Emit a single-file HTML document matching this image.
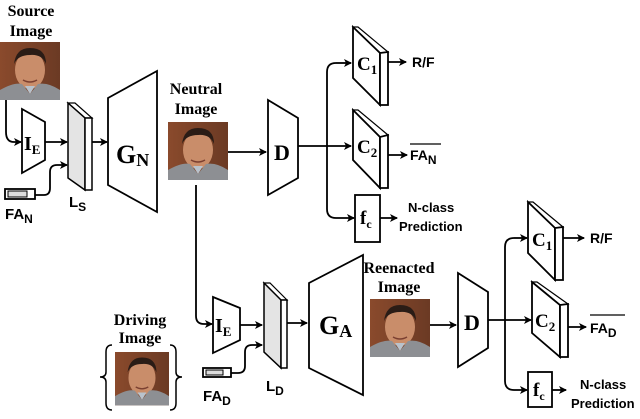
<!DOCTYPE html>
<html><head><meta charset="utf-8"><style>
html,body{margin:0;padding:0;background:#fff;}
svg{display:block;}
.s{font-family:"Liberation Serif",serif;font-weight:bold;}
.a{font-family:"Liberation Sans",sans-serif;font-weight:bold;}
</style></head><body>
<svg width="640" height="419" viewBox="0 0 640 419" xmlns="http://www.w3.org/2000/svg">
<defs>
<marker id="ar" markerWidth="8" markerHeight="8" refX="7" refY="4" orient="auto" markerUnits="userSpaceOnUse">
<path d="M0,0 L8,4 L0,8 L2,4 z" fill="#000"/></marker>
<linearGradient id="bg" x1="0" y1="0" x2="1" y2="0"><stop offset="0" stop-color="#8a4a2c"/><stop offset="1" stop-color="#6b3a24"/></linearGradient>
<g id="face">
<rect x="0" y="0" width="60" height="58" fill="url(#bg)"/>
<ellipse cx="30" cy="28" rx="15" ry="19" fill="#c98d6a"/>
<path d="M14,22 Q16,6 30,6 Q46,6 46,22 Q42,12 30,13 Q18,13 14,22z" fill="#2a1c16"/>
<path d="M0,58 L0,48 Q14,40 22,42 L30,52 L38,42 Q48,40 60,48 L60,58z" fill="#8d8f93"/>
<path d="M25,44 L30,52 L35,44z" fill="#b8c2cc"/>
<path d="M23,38 Q30,42 37,38" stroke="#7a3f30" stroke-width="1.5" fill="none"/>
</g>
</defs>
<g fill="none" stroke="#000" stroke-width="1.8">
<path d="M6,100 L6,132 Q6,142 14,142 L21,142" marker-end="url(#ar)"/>
<polygon points="22,109 45,122 45,160 22,173" fill="#fff"/>
<line x1="45" y1="142" x2="67" y2="142" marker-end="url(#ar)"/>
<rect x="5" y="189" width="30" height="10" fill="#fff"/>
<rect x="8" y="191" width="19" height="6" fill="#ddd" stroke-width="1"/>
<path d="M35,195 L44,195 Q50,195 50,188 L50,172 Q50,165 57,165 L67,165" marker-end="url(#ar)"/>
<polygon points="68,103 75,103 92,118 85,118" fill="#fff" stroke-width="1.2"/>
<polygon points="68,103 85,118 85,190 68,178" fill="#e4e4e4" stroke-width="1.5"/>
<polygon points="85,118 92,118 92,190 85,190" fill="#fff" stroke-width="1.5"/>
<line x1="92" y1="142" x2="107" y2="142" marker-end="url(#ar)"/>
<polygon points="108,98 157,71 157,212 108,185" fill="#fff"/>
<line x1="226" y1="152" x2="266" y2="152" marker-end="url(#ar)"/>
<polygon points="268,100 298,118 298,178 268,195" fill="#fff"/>
<line x1="298" y1="146" x2="351" y2="146" marker-end="url(#ar)"/>
<path d="M336,63 Q327,63 327,72 L327,209 Q327,218 336,218 L354,218" marker-end="url(#ar)"/>
<path d="M336,63 L351,63" marker-end="url(#ar)"/>
<polygon points="353,27 358,27 388,52 380,53" fill="#fff" stroke-width="1.2"/>
<polygon points="353,27 380,53 380,105 353,78" fill="#fff"/>
<polygon points="380,53 388,52 388,105 380,105" fill="#fff"/>
<line x1="388" y1="62" x2="406" y2="62" marker-end="url(#ar)"/>
<polygon points="353,110 358,110 388,135 380,137" fill="#fff" stroke-width="1.2"/>
<polygon points="353,110 380,137 380,188 353,160" fill="#fff"/>
<polygon points="380,137 388,135 388,188 380,188" fill="#fff"/>
<line x1="388" y1="155" x2="407" y2="155" marker-end="url(#ar)"/>
<rect x="355" y="195" width="25" height="47" fill="#fff"/>
<line x1="380" y1="218" x2="397" y2="218" marker-end="url(#ar)"/>
<path d="M196,185 L196,316 Q196,324 204,324 L212,324" marker-end="url(#ar)"/>
<polygon points="213,297 240,308 240,340 213,353" fill="#fff"/>
<line x1="240" y1="325" x2="262" y2="325" marker-end="url(#ar)"/>
<rect x="203" y="368" width="28" height="9" fill="#fff"/>
<rect x="206" y="370" width="17" height="5" fill="#ddd" stroke-width="1"/>
<path d="M231,373 L238,373 Q245,373 245,366 L245,352 Q245,345 252,345 L262,345" marker-end="url(#ar)"/>
<polygon points="264,283 270,283 287,300 281,300" fill="#fff" stroke-width="1.2"/>
<polygon points="264,283 281,300 281,368 264,352" fill="#e4e4e4" stroke-width="1.5"/>
<polygon points="281,300 287,300 287,368 281,368" fill="#fff" stroke-width="1.5"/>
<line x1="287" y1="323" x2="307" y2="323" marker-end="url(#ar)"/>
<polygon points="309,283 363,255 363,395 309,368" fill="#fff"/>
<path d="M112,345 Q106,345 106,352 L106,372 Q106,377 100,377 Q106,377 106,382 L106,403 Q106,410 112,410" stroke-width="1.5"/>
<path d="M170,345 Q176,345 176,352 L176,372 Q176,377 182,377 Q176,377 176,382 L176,403 Q176,410 170,410" stroke-width="1.5"/>
<line x1="430" y1="325" x2="456" y2="325" marker-end="url(#ar)"/>
<polygon points="458,273 488,292 488,348 458,367" fill="#fff"/>
<line x1="488" y1="320" x2="531" y2="320" marker-end="url(#ar)"/>
<path d="M514,238 Q505,238 505,247 L505,381 Q505,390 514,390 L527,390" marker-end="url(#ar)"/>
<path d="M514,238 L527,238" marker-end="url(#ar)"/>
<polygon points="528,202 533,202 563,227 555,228" fill="#fff" stroke-width="1.2"/>
<polygon points="528,202 555,228 555,280 528,253" fill="#fff"/>
<polygon points="555,228 563,227 563,280 555,280" fill="#fff"/>
<line x1="563" y1="238" x2="584" y2="238" marker-end="url(#ar)"/>
<polygon points="532,282 537,282 568,304 560,305" fill="#fff" stroke-width="1.2"/>
<polygon points="532,282 560,305 560,357 532,333" fill="#fff"/>
<polygon points="560,305 568,304 568,357 560,357" fill="#fff"/>
<line x1="568" y1="327" x2="586" y2="327" marker-end="url(#ar)"/>
<rect x="528" y="372" width="24" height="35" fill="#fff"/>
<line x1="552" y1="390" x2="566" y2="390" marker-end="url(#ar)"/>
<line x1="410" y1="144" x2="441" y2="144" stroke-width="1.3"/>
<line x1="590" y1="315" x2="625" y2="315" stroke-width="1.3"/>
</g>
<use href="#face" x="0" y="42"/>
<use href="#face" x="168" y="122"/>
<g transform="translate(115,352) scale(0.9,0.92)"><use href="#face"/></g>
<use href="#face" x="370" y="299"/>
<g class="s" font-size="16" text-anchor="middle">
<text x="31" y="16">Source</text><text x="31" y="36">Image</text>
<text x="196" y="94">Neutral</text><text x="196" y="114">Image</text>
<text x="140" y="325">Driving</text><text x="140" y="343">Image</text>
<text x="399" y="273">Reenacted</text><text x="399" y="292">Image</text>
</g>
<g class="s">
<text x="24" y="150" font-size="20">I<tspan font-size="13" dy="4">E</tspan></text>
<text x="116" y="163" font-size="26">G<tspan font-size="18" dy="3">N</tspan></text>
<text x="274" y="160" font-size="22">D</text>
<text x="357" y="70" font-size="19">C<tspan font-size="13" dy="4">1</tspan></text>
<text x="357" y="153" font-size="19">C<tspan font-size="13" dy="4">2</tspan></text>
<text x="360" y="224" font-size="19">f<tspan font-size="12" dy="4">c</tspan></text>
<text x="215" y="332" font-size="20">I<tspan font-size="13" dy="4">E</tspan></text>
<text x="319" y="334" font-size="26">G<tspan font-size="18" dy="3">A</tspan></text>
<text x="464" y="330" font-size="22">D</text>
<text x="532" y="246" font-size="19">C<tspan font-size="13" dy="4">1</tspan></text>
<text x="535" y="327" font-size="19">C<tspan font-size="13" dy="4">2</tspan></text>
<text x="533" y="396" font-size="19">f<tspan font-size="12" dy="4">c</tspan></text>
</g>
<g class="a">
<text x="5" y="219" font-size="15">FA<tspan font-size="12" dy="4">N</tspan></text>
<text x="69" y="207" font-size="15">L<tspan font-size="12" dy="4">S</tspan></text>
<text x="203" y="401" font-size="15">FA<tspan font-size="12" dy="4">D</tspan></text>
<text x="266" y="391" font-size="15">L<tspan font-size="12" dy="4">D</tspan></text>
<text x="412" y="67" font-size="14">R/F</text>
<text x="410" y="160" font-size="14">FA<tspan font-size="12" dy="4">N</tspan></text>
<text x="408" y="212" font-size="13">N-class</text>
<text x="399" y="231" font-size="13">Prediction</text>
<text x="590" y="243" font-size="14">R/F</text>
<text x="590" y="333" font-size="14">FA<tspan font-size="12" dy="4">D</tspan></text>
<text x="580" y="389" font-size="13">N-class</text>
<text x="571" y="408" font-size="13">Prediction</text>
</g>
</svg>
</body></html>
